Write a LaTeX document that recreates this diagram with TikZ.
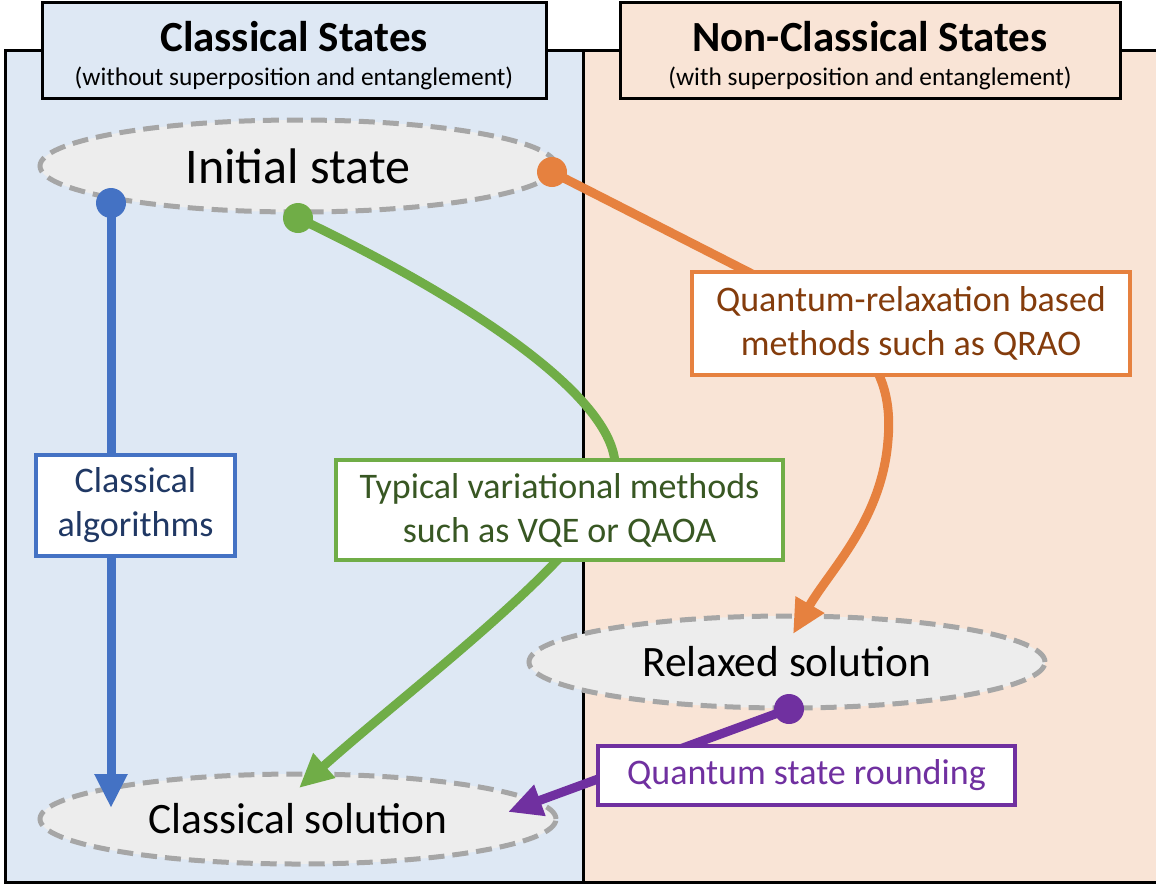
\documentclass[tikz,border=0pt]{standalone}
\usepackage{fontspec}
\setmainfont{Carlito}
\usetikzlibrary{arrows.meta,shapes.geometric}
\definecolor{panelL}{HTML}{DEE8F4}
\definecolor{panelR}{HTML}{F9E4D6}
\definecolor{ellfill}{HTML}{EDEDED}
\definecolor{elldash}{HTML}{A6A6A6}
\definecolor{cblue}{HTML}{4472C4}
\definecolor{cgreen}{HTML}{70AD47}
\definecolor{corange}{HTML}{E6813F}
\definecolor{cpurple}{HTML}{7030A0}
\definecolor{tblue}{HTML}{203864}
\definecolor{tgreen}{HTML}{385723}
\definecolor{torange}{HTML}{843C0C}
\pgfdeclarelayer{back}
\pgfdeclarelayer{conn}
\pgfsetlayers{back,conn,main}
\begin{document}
\begin{tikzpicture}[x=0.5pt,y=-0.5pt,
  panel/.style={draw=black,line width=1.5pt},
  hdrbox/.style={draw=black,line width=1.5pt,minimum height=48pt,inner sep=0pt},
  hdrtitle/.style={font=\fontsize{21.5}{24}\selectfont\bfseries,inner sep=0pt},
  hdrsub/.style={font=\fontsize{12.7}{15}\selectfont,inner sep=0pt},
  state/.style={ellipse,fill=ellfill,draw=elldash,line width=2.5pt,dash pattern=on 8pt off 4pt,
    minimum width=258pt,minimum height=46pt,inner sep=0pt,font=\fontsize{21.7}{26}\selectfont},
  lbl/.style={rectangle,fill=white,line width=2pt,inner sep=0pt,align=center,
    font=\fontsize{18}{22}\selectfont},
  conn/.style={line width=4.5pt,-{Triangle[length=17pt,width=15.5pt]}},
  dot/.style={circle,inner sep=0pt,minimum size=15pt}
]
\useasboundingbox (0,0) rectangle (1156,884);
\begin{pgfonlayer}{back}
  \fill[white] (0,0) rectangle (1156,884);
  \draw[panel,fill=panelL] (5,50) rectangle (583,882);
  \draw[panel,fill=panelR] (583,50) rectangle (1162,882);
  \node[hdrbox,fill=panelL,minimum width=252pt] (hl) at (294,50) {};
  \node[hdrbox,fill=panelR,minimum width=250pt] (hr) at (870,50) {};
  \node[hdrtitle] (hlt) at (294,37) {Classical States};
  \node[hdrsub] (hls) at (294,78) {(without superposition and entanglement)};
  \node[hdrtitle] (hrt) at (870,37) {Non-Classical States};
  \node[hdrsub] (hrs) at (870,78) {(with superposition and entanglement)};
  \node[state,font=\fontsize{25}{30}\selectfont] (init) at (298,166) {Initial state};
  \node[state] (relax) at (787,662) {Relaxed solution};
  \node[state,minimum height=45pt] (csol) at (298,819) {Classical solution};
\end{pgfonlayer}

% label boxes
\node[lbl,draw=cblue,text=tblue,minimum width=99.5pt,minimum height=50.5pt] (cbox) at (135.5,505.5) {Classical\\algorithms};
\node[lbl,draw=cgreen,text=tgreen,minimum width=223.5pt,minimum height=50pt] (gbox) at (559.5,510) {Typical variational methods\\such as VQE or QAOA};
\node[lbl,draw=corange,text=torange,minimum width=219pt,minimum height=51.5pt] (obox) at (911,323.5) {Quantum-relaxation based\\methods such as QRAO};
\node[lbl,draw=cpurple,text=cpurple,minimum width=208.5pt,minimum height=29.5pt] (pbox) at (806.5,775.5) {Quantum state rounding};

% connector end points
\coordinate (bdot) at (111,203);
\coordinate (btip) at (111,808);
\coordinate (gdot) at (298,218);
\coordinate (gmid) at (615,470);
\coordinate (gtip) at (299,788);
\coordinate (odot) at (552,172);
\coordinate (okink) at (760,278);
\coordinate (omid) at (888,440);
\coordinate (otip) at (793,634);
\coordinate (pdot) at (789,709);
\coordinate (ptip) at (508,812);

\begin{pgfonlayer}{conn}
  \draw[conn,cblue] (bdot) -- (btip);
  \node[dot,fill=cblue] (bd) at (bdot) {};
  \draw[conn,cgreen] (gdot) .. controls (470,300) and (620,400) .. (gmid)
        .. controls (610,540) and (420,680) .. (gtip);
  \node[dot,fill=cgreen] (gd) at (gdot) {};
  \draw[conn,corange] (odot) -- (okink) .. controls (850,324) and (895,360) .. (omid)
        .. controls (882,520) and (830,570) .. (otip);
  \node[dot,fill=corange] (od) at (odot) {};
  \draw[conn,cpurple] (pdot) -- (ptip);
  \node[dot,fill=cpurple] (pd) at (pdot) {};
\end{pgfonlayer}
\end{tikzpicture}
\end{document}
